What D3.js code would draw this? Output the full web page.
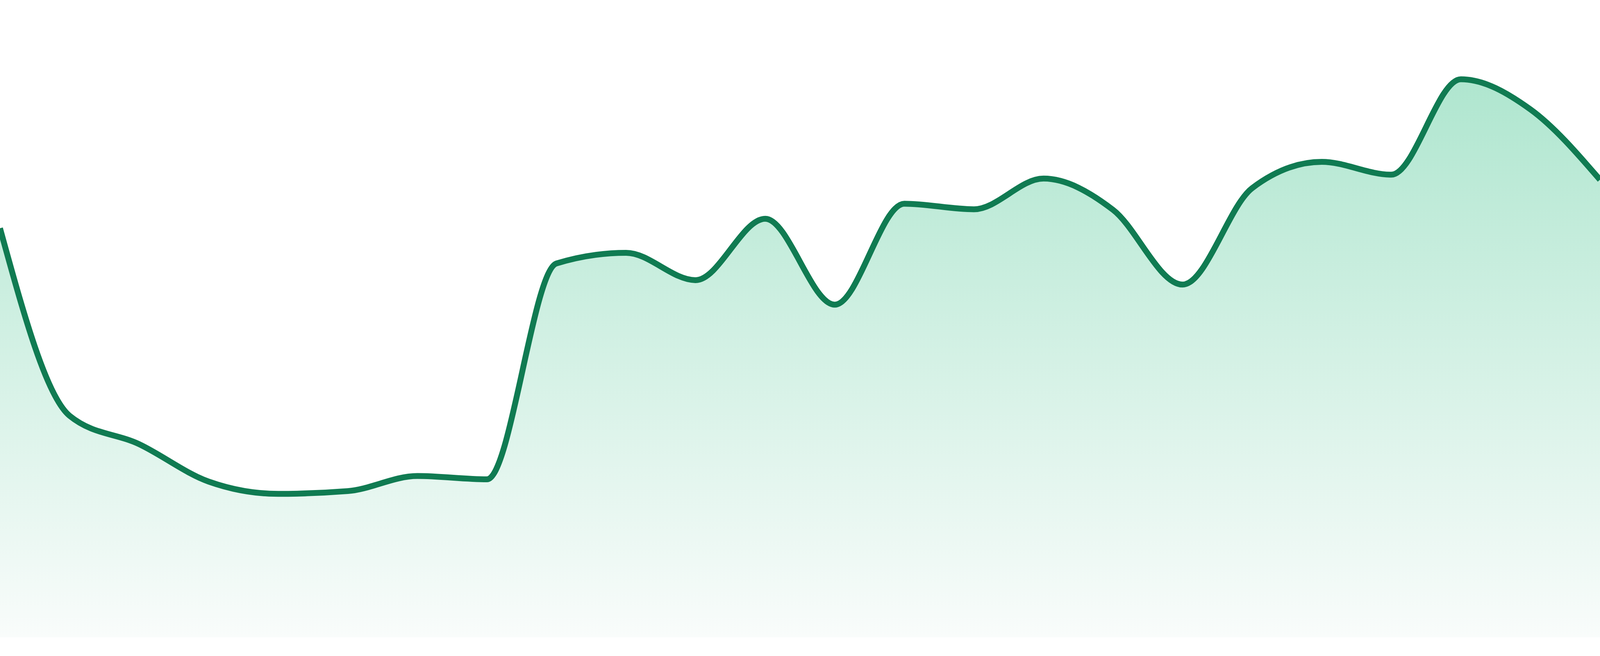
<!DOCTYPE html>
<html>

<head>
    <meta charset="UTF-8">
    <style>
        html, body { margin: 0; padding: 0; background: #fff; overflow: hidden; }
        svg { display: block; }
    </style>
</head>

<body>
    <svg></svg>
    <script src="https://d3js.org/d3.v7.min.js"></script>

    <script>
        // layout; everything scales to the window
        const baseW = 4800, baseH = 1680;
        const width = window.innerWidth || baseW;
        const height = window.innerHeight || baseH;
        const sy = height / baseH;
        const margin = { top: 203 * sy, right: 0, bottom: 48 * sy, left: 0 };

        // series values, one per step
        const steps = d3.range(24);
        const values = [73.3, 39.7, 34.6, 27.9, 25.7, 26.2, 28.9, 28.3,
            67.0, 68.9, 64.0, 75.0, 59.6, 77.7, 76.7, 82.2,
            76.6, 63.2, 80.5, 85.2, 82.9, 100, 94.6, 82.0];

        const data = steps.map((s, i) => ({ step: s, value: values[i] }));

        const svg = d3.select("svg")
            .attr("width", width)
            .attr("height", height);

        const x = d3.scaleLinear()
            .domain(d3.extent(steps))
            .range([margin.left, width - margin.right]);

        // top of the range is where the highest value sits
        const y = d3.scaleLinear()
            .domain([0, 100])
            .range([height - margin.bottom, margin.top]);

        // gradient under the line, fading towards the bottom
        const defs = svg.append("defs");
        const grad = defs.append("linearGradient")
            .attr("id", "areaFill")
            .attr("x1", 0).attr("y1", 0)
            .attr("x2", 0).attr("y2", 1);
        grad.append("stop").attr("offset", "0%").attr("stop-color", "#afe6cf");
        grad.append("stop").attr("offset", "100%").attr("stop-color", "#f9fcfb");

        const area = d3.area()
            .x(d => x(d.step))
            .y0(y(0))
            .y1(d => y(d.value))
            .curve(d3.curveMonotoneX);

        const line = d3.line()
            .x(d => x(d.step))
            .y(d => y(d.value))
            .curve(d3.curveMonotoneX);

        svg.append("path")
            .datum(data)
            .attr("fill", "url(#areaFill)")
            .attr("d", area);

        svg.append("path")
            .datum(data)
            .attr("fill", "none")
            .attr("stroke", "#107b52")
            .attr("stroke-width", 15 * sy)
            .attr("stroke-linejoin", "round")
            .attr("d", line);
    </script>

</body>

</html>
